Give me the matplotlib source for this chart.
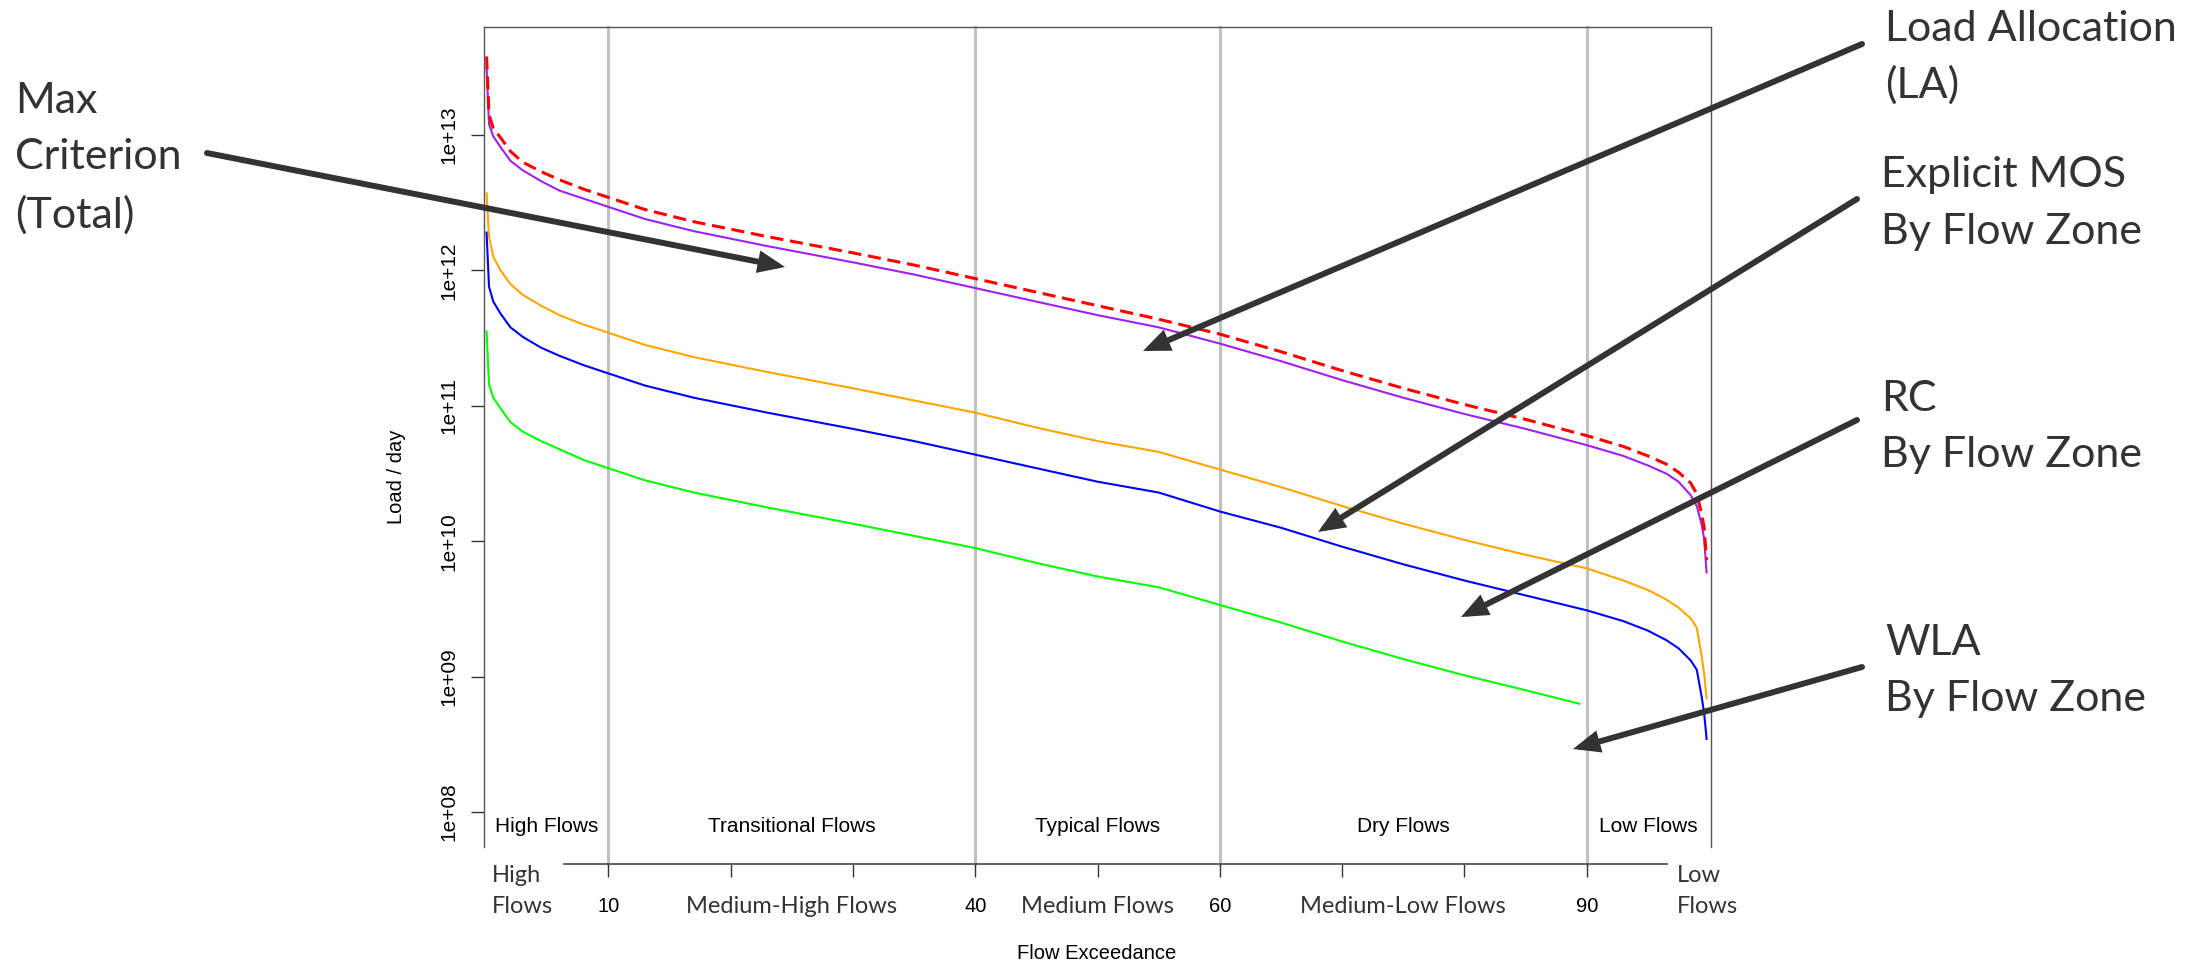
import numpy as np
import matplotlib
matplotlib.use("Agg")
import matplotlib.pyplot as plt
from matplotlib.patches import ArrowStyle, FancyArrowPatch
from matplotlib.transforms import blended_transform_factory

# ---- data (log10 of load / day) ----
flow_pct = [0.05, 0.25, 0.6, 1.2, 2, 3, 4.5, 6, 8, 10, 13, 17, 23, 30, 35, 40, 45,
            50, 55, 60, 65, 70, 75, 80, 85, 90, 93, 95, 96.5, 97.5, 98.5, 99,
            99.4, 99.6, 99.8]

max_criterion = [13.58, 13.15, 13.05, 12.98, 12.88, 12.80, 12.73, 12.67, 12.60, 12.54,
                 12.45, 12.36, 12.25, 12.13, 12.04, 11.94, 11.84, 11.74, 11.64, 11.53,
                 11.40, 11.26, 11.13, 11.01, 10.90, 10.78, 10.70, 10.63, 10.57, 10.51,
                 10.43, 10.35, 10.20, 10.10, 9.86]
load_alloc = [13.50, 13.08, 12.99, 12.91, 12.81, 12.74, 12.66, 12.59, 12.53, 12.47,
              12.38, 12.29, 12.18, 12.06, 11.97, 11.87, 11.77, 11.67, 11.58, 11.46,
              11.33, 11.19, 11.06, 10.94, 10.83, 10.71, 10.63, 10.56, 10.50, 10.44,
              10.34, 10.26, 10.12, 10.02, 9.77]
mos = [12.57, 12.25, 12.10, 12.00, 11.90, 11.82, 11.74, 11.67, 11.60, 11.54,
       11.45, 11.36, 11.25, 11.13, 11.04, 10.95, 10.84, 10.74, 10.66, 10.53,
       10.40, 10.26, 10.13, 10.01, 9.90, 9.80, 9.71, 9.64, 9.57, 9.51,
       9.43, 9.36, 9.15, 9.02, 8.84]
rc = [12.28, 11.88, 11.77, 11.68, 11.58, 11.51, 11.43, 11.37, 11.30, 11.24,
      11.15, 11.06, 10.95, 10.83, 10.74, 10.64, 10.54, 10.44, 10.36, 10.22,
      10.10, 9.96, 9.83, 9.71, 9.60, 9.49, 9.41, 9.34, 9.27, 9.21,
      9.12, 9.05, 8.85, 8.73, 8.54]

wla_pct = [0.05, 0.25, 0.6, 1.2, 2, 3, 4.5, 6, 8, 10, 13, 17, 23, 30, 35, 40, 45,
           50, 55, 60, 65, 70, 75, 80, 85, 89.4]
wla = [11.55, 11.16, 11.06, 10.98, 10.88, 10.81, 10.74, 10.68, 10.60, 10.54,
       10.45, 10.36, 10.25, 10.13, 10.04, 9.95, 9.84, 9.74, 9.66, 9.53,
       9.40, 9.26, 9.13, 9.01, 8.90, 8.80]

zone_breaks = [10, 40, 60, 90]
zone_names = ["High Flows", "Transitional Flows", "Typical Flows", "Dry Flows", "Low Flows"]
zone_centers = [5, 25, 50, 75, 95]
x_ticks = [10, 20, 30, 40, 50, 60, 70, 80, 90]
x_labels = ["10", "", "", "40", "", "60", "", "", "90"]
y_ticks = [1e8, 1e9, 1e10, 1e11, 1e12, 1e13]
y_labels = ["1e+08", "1e+09", "1e+10", "1e+11", "1e+12", "1e+13"]
mid_zones = ["Medium-High Flows", "Medium Flows", "Medium-Low Flows"]
mid_centers = [25, 50, 75]

W, H = 2211, 963
R_FONT = "Liberation Sans"
PPT_FONT = "Lato"
INK = "#333333"


def fx(px):
    return px / W


def fy(py):
    return 1 - py / H


fig = plt.figure(figsize=(W / 100, H / 100), dpi=100)
ax = fig.add_axes([fx(484), fy(847), (1711 - 484) / W, (847 - 27) / H])

ax.set_yscale("log")
ax.set_xlim(-0.16, 100.16)
ax.set_ylim(10 ** 7.742, 10 ** 13.798)

for b in zone_breaks:
    ax.axvline(b, ymin=-17 / 820, ymax=1, color="#c0c0c0", lw=2.2, clip_on=False, zorder=1)

ax.plot(flow_pct, 10 ** np.array(load_alloc), color="#a020f0", lw=1.5, zorder=3)
ax.plot(flow_pct, 10 ** np.array(mos), color="#ffa500", lw=1.5, zorder=3)
ax.plot(flow_pct, 10 ** np.array(rc), color="#0000ff", lw=1.5, zorder=3)
ax.plot(wla_pct, 10 ** np.array(wla), color="#00ff00", lw=1.5, zorder=3)
ax.plot(flow_pct, 10 ** np.array(max_criterion), color="#ff0000", lw=2.2,
        dashes=(4.3, 2.2), zorder=4)

# box open at the bottom, x axis drawn below it
for s in ["left", "top", "right"]:
    ax.spines[s].set_color("#555555")
    ax.spines[s].set_linewidth(1.0)
ax.spines["bottom"].set_position(("outward", 17 * 0.72))
ax.spines["bottom"].set_bounds(6.4, 96.6)
ax.spines["bottom"].set_color("#555555")
ax.spines["bottom"].set_linewidth(1.3)

ax.set_xticks(x_ticks)
ax.set_xticklabels(x_labels, fontsize=14.5, family=R_FONT)
ax.set_yticks(y_ticks)
ax.set_yticklabels(y_labels, fontsize=15, family=R_FONT, rotation=90, va="center")
ax.minorticks_off()
ax.tick_params(axis="x", length=9.4, width=1.0, color="#333333", pad=14)
ax.tick_params(axis="y", length=9.4, width=1.0, color="#333333", pad=9)

for name, xc in zip(zone_names, zone_centers):
    ax.text(xc, (847 - 826) / 820, name, transform=ax.get_xaxis_transform(),
            ha="center", va="center", fontsize=15, family=R_FONT)

fig.text(fx(396), fy(477), "Load / day", rotation=90, ha="center", va="center",
         fontsize=14.5, family=R_FONT)
fig.text(fx(1097), fy(953), "Flow Exceedance", ha="center", va="center",
         fontsize=14.5, family=R_FONT)

# overlay labels under the axis
under = blended_transform_factory(ax.transData, fig.transFigure)
for name, xc in zip(mid_zones, mid_centers):
    ax.text(xc, fy(913), name, transform=under, ha="center", va="baseline",
            fontsize=17, family=PPT_FONT, color=INK)
for t, px, py in [("High", 492, 882), ("Flows", 492, 913),
                  ("Low", 1677, 882), ("Flows", 1677, 913)]:
    fig.text(fx(px), fy(py), t, ha="left", va="baseline", fontsize=17,
             family=PPT_FONT, color=INK)

# callouts
callouts = [
    (["Max", "Criterion", "(Total)"], 15, [113, 169, 228], (207, 153), (785, 267)),
    (["Load Allocation", "(LA)"], 1885, [41, 98], (1862, 44), (1143, 351)),
    (["Explicit MOS", "By Flow Zone"], 1881, [187, 244], (1857, 199), (1318, 532)),
    (["RC", "By Flow Zone"], 1881, [411, 467], (1857, 420), (1461, 617)),
    (["WLA", "By Flow Zone"], 1885, [655, 711], (1862, 667), (1573, 749)),
]
style = ArrowStyle("-|>", head_length=1.2, head_width=0.5)
for lines, px, baselines, tail, tip in callouts:
    for t, py in zip(lines, baselines):
        fig.text(fx(px), fy(py), t, ha="left", va="baseline", fontsize=31,
                 family=PPT_FONT, color=INK)
    fig.add_artist(FancyArrowPatch(
        (fx(tail[0]), fy(tail[1])), (fx(tip[0]), fy(tip[1])),
        transform=fig.transFigure, arrowstyle=style, mutation_scale=10,
        lw=4.3, color=INK, shrinkA=0, shrinkB=0, joinstyle="miter"))

fig.savefig("out.png", dpi=100)
